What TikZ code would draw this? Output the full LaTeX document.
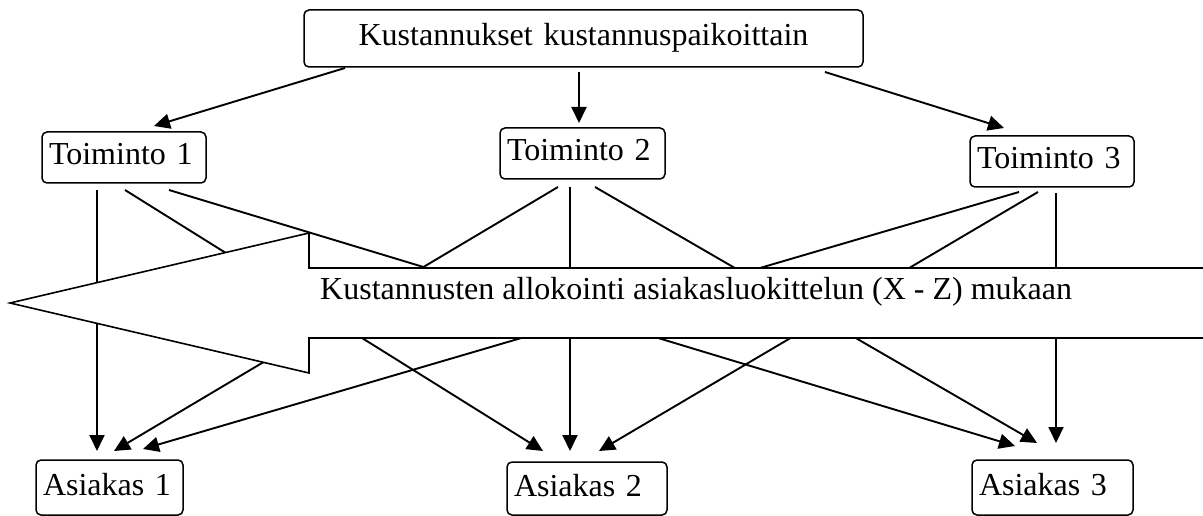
\documentclass[tikz,border=0pt]{standalone}
\usepackage{fontspec}
\setmainfont{Liberation Serif}
\usetikzlibrary{arrows.meta,calc}
\tikzset{
  box/.style={draw, rounded corners=5pt, line width=1.5pt, inner xsep=7pt, inner ysep=0pt,
    outer sep=0pt, text height=22pt, text depth=7pt, align=left, anchor=north west,
    font=\fontsize{32pt}{38pt}\selectfont},
  conn/.style={line width=1.9pt, -{Triangle[length=16pt,width=15pt]}},
  bigarrow/.style={line width=1.6pt, line join=miter},
  lbl/.style={anchor=base west, inner sep=0pt, font=\fontsize{32pt}{38pt}\selectfont},
}
\begin{document}
\begin{tikzpicture}[x=1pt,y=-1pt]
\useasboundingbox (0,0) rectangle (1203,516);
% nodes
\node[box, align=center, text width=545pt, minimum height=57pt] (top) at (304,10) {Kustannukset kustannuspaikoittain};
\node[box, text width=150pt, minimum height=51pt] (t1) at (42,132) {Toiminto 1};
\node[box, text width=151pt, minimum height=51pt] (t2) at (500,128) {Toiminto 2};
\node[box, text width=150pt, minimum height=51pt] (t3) at (970,136) {Toiminto 3};
\node[box, text width=133pt, minimum height=55pt] (a1) at (36,460) {Asiakas 1};
\node[box, text width=146pt, minimum height=53pt] (a2) at (507,462) {Asiakas 2};
\node[box, text width=147pt, minimum height=55pt] (a3) at (972,460) {Asiakas 3};
% top arrows
\draw[conn] ($(top.south west)+(41,1)$) -- ($(t1.north west)+(112,-6)$);
\draw[conn] ($(top.south west)+(275,5)$) -- ($(t2.north west)+(79,-5)$);
\draw[conn] ($(top.south west)+(521,5)$) -- ($(t3.north west)+(34,-8)$);
% allocation connectors
\draw[conn] ($(t1.south west)+(55,7)$) -- ($(a1.north west)+(61,-9)$);
\draw[conn] ($(t1.south west)+(83,7)$) -- ($(a2.north west)+(36,-11)$);
\draw[conn] ($(t1.south west)+(127,7)$) -- ($(a3.north west)+(43,-14)$);
\draw[conn] ($(t2.south west)+(58,8)$) -- ($(a1.north west)+(78,-9)$);
\draw[conn] ($(t2.south west)+(70,8)$) -- ($(a2.north west)+(63,-11)$);
\draw[conn] ($(t2.south west)+(95,8)$) -- ($(a3.north west)+(65,-17)$);
\draw[conn] ($(t3.south west)+(49,5)$) -- ($(a1.north west)+(107,-11)$);
\draw[conn] ($(t3.south west)+(68,5)$) -- ($(a2.north west)+(92,-11)$);
\draw[conn] ($(t3.south west)+(86,6)$) -- ($(a3.north west)+(84,-17)$);
% big arrow
\path[fill=white] (1210,268) -- (309,268) -- (309,233) -- (10,303) -- (309,373) -- (309,338) -- (1210,338) -- cycle;
\draw[bigarrow] (1210,268) -- (309,268) -- (309,233) -- (10,303) -- (309,373) -- (309,338) -- (1210,338);
\node[lbl] (alloc) at (320,299) {Kustannusten allokointi asiakasluokittelun (X - Z) mukaan};
\end{tikzpicture}
\end{document}
